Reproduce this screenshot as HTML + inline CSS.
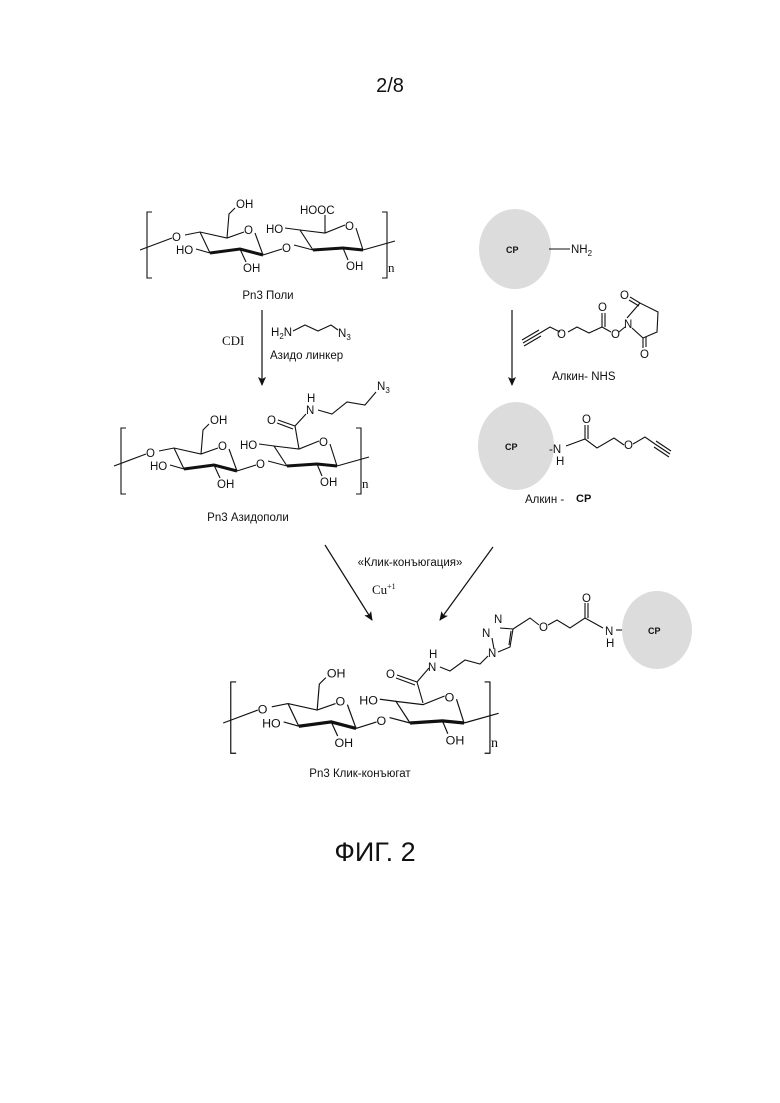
<!DOCTYPE html>
<html><head><meta charset="utf-8"><style>
html,body{margin:0;padding:0;background:#fff}
svg{display:block}
text{font-family:"Liberation Sans",sans-serif;fill:#111}
.s{font-size:11.5px}
.c{font-size:13px;font-family:"Liberation Serif",serif}
</style></head><body>
<svg width="780" height="1103" viewBox="0 0 780 1103" xmlns="http://www.w3.org/2000/svg">
<defs>
<marker id="ah" markerWidth="10" markerHeight="10" refX="8" refY="4" orient="auto" markerUnits="userSpaceOnUse">
<path d="M0,0 L9,4 L0,8 L2,4 z" fill="#111"/></marker>
<g id="ds" stroke="#111" stroke-width="1.1" fill="none">
<path d="M152,212 h-5 v66 h5"/>
<path d="M382,212 h5 v66 h-5"/>
<path d="M140,250 L172,238"/>
<path d="M185,235 L200,232 L227,238 L244,232"/>
<path d="M255,233 L263,255"/>
<path d="M200,232 L210,253"/>
<path d="M210,253 L240,249 L263,255" stroke-width="3"/>
<path d="M196,249 L210,253"/>
<path d="M240,249 L246,262"/>
<path d="M227,238 L229,214 L235,208"/>
<path d="M263,255 L282,249"/>
<path d="M294,245 L313,250"/>
<path d="M313,250 L343,248 L363,250" stroke-width="3"/>
<path d="M313,250 L300,230 L325,233 L345,225"/>
<path d="M356,228 L363,250"/>
<path d="M285,228 L300,230"/>
<path d="M343,248 L348,260"/>
<path d="M363,250 L395,241"/>
</g>
<g id="dst">
<text x="172" y="241" class="s">O</text>
<text x="176" y="254" class="s">HO</text>
<text x="236" y="208" class="s">OH</text>
<text x="244" y="234" class="s">O</text>
<text x="243" y="272" class="s">OH</text>
<text x="282" y="252" class="s">O</text>
<text x="266" y="233" class="s">HO</text>
<text x="345" y="230" class="s">O</text>
<text x="346" y="270" class="s">OH</text>
<text x="388" y="272" class="c">n</text>
</g>
</defs>

<text x="390" y="92" text-anchor="middle" style="font-size:20px">2/8</text>

<!-- top disaccharide -->
<use href="#ds"/><use href="#dst"/>
<path d="M325,233 L325,215" stroke="#111" stroke-width="1.1"/>
<text x="300" y="214" class="s">HOOC</text>
<text x="268" y="299" text-anchor="middle" class="s">Pn3 Поли</text>

<!-- middle -->
<g transform="translate(-26,216)"><use href="#ds"/><use href="#dst"/></g>
<g stroke="#111" stroke-width="1.1" fill="none">
<path d="M299,449 L295,426"/>
<path d="M295,426 L278,420 M293,429 L277,423"/>
<path d="M295,426 L306,414"/>
<path d="M318,410 L332,414 L347,402 L365,405 L376,392"/>
</g>
<text x="267" y="424" class="s">O</text>
<text x="306" y="414" class="s">N</text>
<text x="307" y="402" class="s">H</text>
<text x="377" y="390" class="s">N<tspan dy="3" style="font-size:8px">3</tspan></text>
<text x="248" y="521" text-anchor="middle" class="s">Pn3 Азидополи</text>

<!-- left arrow -->
<line x1="262" y1="310" x2="262" y2="385" stroke="#111" stroke-width="1.2" marker-end="url(#ah)"/>
<text x="222" y="345" class="c">CDI</text>
<text x="271" y="336" class="s">H<tspan dy="3" style="font-size:8px">2</tspan><tspan dy="-3">N</tspan></text>
<path d="M293,331 L305,325 L318,331 L331,325 L338,330" stroke="#111" fill="none" stroke-width="1.1"/>
<text x="338" y="337" class="s">N<tspan dy="3" style="font-size:8px">3</tspan></text>
<text x="270" y="359" class="s">Азидо линкер</text>

<!-- top right CP -->
<ellipse cx="515" cy="249" rx="36" ry="40" fill="#dcdcdc"/>
<text x="506" y="253" style="font-size:9px;font-weight:bold">CP</text>
<line x1="549" y1="249" x2="570" y2="249" stroke="#111" stroke-width="1.1"/>
<text x="571" y="253" class="s">NH<tspan dy="3" style="font-size:8px">2</tspan></text>

<line x1="512" y1="310" x2="512" y2="385" stroke="#111" stroke-width="1.2" marker-end="url(#ah)"/>
<g stroke="#111" stroke-width="1.1" fill="none">
<path d="M523,343 L540,333 M522,340 L539,330 M524,346 L541,336"/>
<path d="M540,333 L550,327 L560,332"/>
<path d="M568,332 L577,327 L589,333 L602,327 L611,332"/>
<path d="M602,327 L602,313 M605,327 L605,313"/>
<path d="M619,332 L625,327"/>
<path d="M627,318 L640,303 L658,312 L657,332 L643,338 L632,328"/>
<path d="M640,303 L630,297 M639,306 L629,300"/>
<path d="M643,338 L643,348 M646,337 L646,347"/>
</g>
<text x="557" y="338" class="s">O</text>
<text x="598" y="311" class="s">O</text>
<text x="611" y="338" class="s">O</text>
<text x="624" y="328" class="s">N</text>
<text x="620" y="299" class="s">O</text>
<text x="640" y="358" class="s">O</text>
<text x="552" y="380" class="s">Алкин- NHS</text>

<!-- alkyne CP -->
<ellipse cx="516" cy="446" rx="38" ry="44" fill="#dcdcdc"/>
<text x="505" y="450" style="font-size:9px;font-weight:bold">CP</text>
<text x="549" y="453" class="s">-N</text>
<text x="556" y="465" class="s">H</text>
<g stroke="#111" stroke-width="1.1" fill="none">
<path d="M566,446 L585,439 L597,448 L614,438 L624,445"/>
<path d="M585,439 L585,425 M588,439 L588,425"/>
<path d="M633,444 L645,437 L655,444"/>
<path d="M655,444 L670,454 M656,441 L671,451 M654,447 L669,457"/>
</g>
<text x="582" y="423" class="s">O</text>
<text x="624" y="449" class="s">O</text>
<text x="525" y="503" class="s">Алкин  -</text>
<text x="576" y="502" style="font-size:11px;font-weight:bold">CP</text>

<!-- click arrows -->
<line x1="325" y1="545" x2="372" y2="620" stroke="#111" stroke-width="1.2" marker-end="url(#ah)"/>
<line x1="493" y1="547" x2="440" y2="620" stroke="#111" stroke-width="1.2" marker-end="url(#ah)"/>
<text x="410" y="566" text-anchor="middle" class="s">«Клик-конъюгация»</text>
<text x="372" y="594" class="c">Cu<tspan dy="-5" style="font-size:8px">+1</tspan></text>

<!-- bottom -->
<g transform="translate(72,453) scale(1.08)"><use href="#ds"/><use href="#dst"/></g>
<g stroke="#111" stroke-width="1.1" fill="none">
<path d="M423,703 L417,682"/>
<path d="M417,682 L397,675 M415,685 L396,678"/>
<path d="M417,682 L429,668"/>
<path d="M440,667 L450,671 L465,660 L480,664 L488,656"/>
<path d="M494,649 L492,638 M500,628 L513,629 L510,647 L498,652 M511,631 L509,645"/>
<path d="M513,629 L530,618 L539,625"/>
<path d="M548,625 L557,620 L570,628 L585,618 L603,628"/>
<path d="M585,618 L585,603 M588,618 L588,603"/>
<path d="M616,630 L624,630"/>
</g>
<text x="386" y="678" class="s">O</text>
<text x="428" y="671" class="s">N</text>
<text x="429" y="658" class="s">H</text>
<text x="488" y="657" class="s">N</text>
<text x="482" y="637" class="s">N</text>
<text x="494" y="623" class="s">N</text>
<text x="539" y="631" class="s">O</text>
<text x="582" y="602" class="s">O</text>
<text x="605" y="635" class="s">N</text>
<text x="606" y="647" class="s">H</text>
<ellipse cx="657" cy="630" rx="35" ry="39" fill="#dcdcdc"/>
<text x="648" y="634" style="font-size:9px;font-weight:bold">CP</text>
<text x="360" y="777" text-anchor="middle" class="s">Pn3 Клик-конъюгат</text>

<text x="375" y="861" text-anchor="middle" style="font-size:27px">ФИГ. 2</text>
</svg>
</body></html>
